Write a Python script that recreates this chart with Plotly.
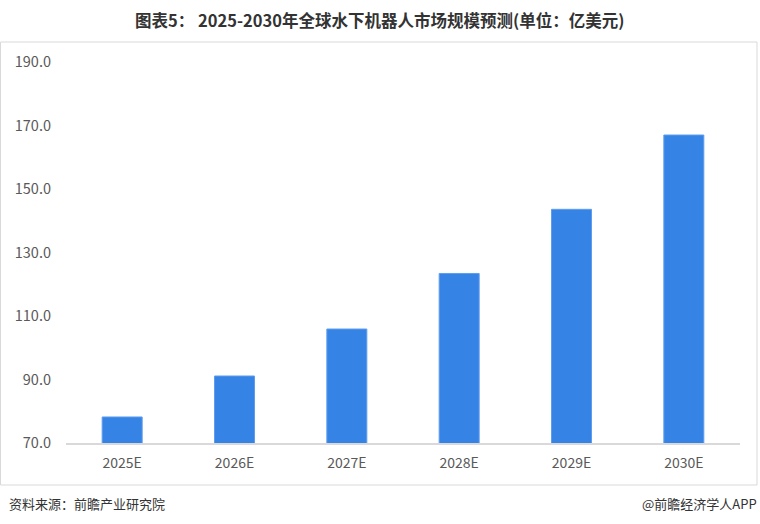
import plotly.graph_objects as go

categories = ["2025E", "2026E", "2027E", "2028E", "2029E", "2030E"]
values = [78.2, 91.1, 105.9, 123.4, 143.6, 167.0]
tick_vals = [70, 90, 110, 130, 150, 170, 190]
tick_text = ["70.0", "90.0", "110.0", "130.0", "150.0", "170.0", "190.0"]

FONT = "Noto Sans CJK SC"

fig = go.Figure(go.Bar(
    x=categories, y=values,
    marker=dict(color="#3683E6", line=dict(color="#5E9DEE", width=1)),
    hoverinfo="x+y",
))

W, H = 760, 524
L, R, T, B = 66, 20, 62, 81
pw, ph = W - L - R, H - T - B

def px(xp):
    return (xp - L) / pw

def py(yp):
    return (H - B - yp) / ph

fig.update_layout(
    width=W, height=H,
    margin=dict(l=L, r=R, t=T, b=B),
    paper_bgcolor="white", plot_bgcolor="white",
    bargap=0.644,
    showlegend=False,
    font=dict(family=FONT, color="#595959", size=13),
    xaxis=dict(
        showline=True, linecolor="#D9D9D9", linewidth=2,
        showgrid=False, ticks="", zeroline=False,
        tickfont=dict(size=14, color="#595959"),
        ticklabelstandoff=6,
    ),
    yaxis=dict(
        range=[70, 190], tickvals=tick_vals, ticktext=tick_text,
        showgrid=False, zeroline=False, showline=False, ticks="",
        tickfont=dict(size=14.5, color="#595959"),
        ticklabelstandoff=14,
    ),
    shapes=[
        dict(type="rect", xref="paper", yref="paper",
             x0=px(0.5), x1=px(757), y0=py(485), y1=py(42),
             line=dict(color="#D9D9D9", width=1), fillcolor="rgba(0,0,0,0)",
             layer="below"),
    ],
    annotations=[
        dict(text="<b>图表5： 2025-2030年全球水下机器人市场规模预测(单位：亿美元)</b>",
             xref="paper", yref="paper", x=px(379), y=py(20),
             xanchor="center", yanchor="middle", showarrow=False,
             font=dict(size=16.5, color="#333333", family=FONT)),
        dict(text="资料来源：前瞻产业研究院",
             xref="paper", yref="paper", x=px(7), y=py(503),
             xanchor="left", yanchor="middle", showarrow=False,
             font=dict(size=13, color="#333333", family=FONT)),
        dict(text="@前瞻经济学人APP",
             xref="paper", yref="paper", x=px(759), y=py(503),
             xanchor="right", yanchor="middle", showarrow=False,
             font=dict(size=13, color="#333333", family=FONT)),
    ],
)

fig.write_html(
    "out.html",
    config={"displayModeBar": False},
    post_script="document.body.style.margin='0';document.body.style.overflow='hidden';",
)
